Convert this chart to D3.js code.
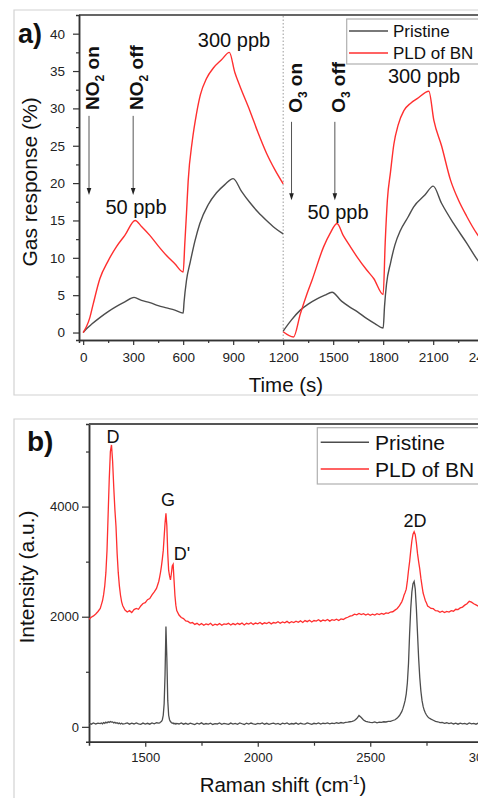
<!DOCTYPE html>
<html>
<head>
<meta charset="utf-8">
<script src="https://cdn.jsdelivr.net/npm/d3@7"></script>
<style>
  body { margin: 0; background: #fff; }
  svg { display: block; font-family: "Liberation Sans", Arial, sans-serif; }
</style>
</head>
<body>
<div class="chart"></div>
<script>
// ---------- panel a) gas response data (time s, response %) ----------
// null = break in the recording at 1200 s
const pristineTime = [0, 25, 50, 100, 150, 200, 250, 305, 350, 400, 450, 500, 550, 600,
  605, 620, 643, 670, 700, 750, 800, 850, 900, 950, 1000, 1050, 1100, 1150, 1200,
  1200,
  1200, 1250, 1303, 1350, 1403, 1450, 1493, 1550, 1600, 1644, 1700, 1750, 1800,
  1808, 1820, 1844, 1870, 1904, 1950, 1982, 2050, 2100, 2150, 2222, 2300, 2360, 2420];
const pristineResp = [0, 0.6, 1.1, 2.0, 2.8, 3.5, 4.1, 4.7, 4.3, 4.0, 3.6, 3.3, 3.0, 2.6,
  4.0, 7.0, 9.5, 12.2, 14.6, 17.1, 18.7, 19.8, 20.6, 18.9, 17.4, 16.1, 15.0, 14.0, 13.2,
  null,
  0.2, 1.7, 3.0, 3.8, 4.5, 5.0, 5.4, 4.2, 3.4, 2.8, 1.9, 1.2, 0.6,
  3.5, 6.5, 9.3, 11.7, 13.7, 15.5, 16.8, 18.4, 19.6, 17.3, 14.6, 12.0, 9.9, 8.2];

const pldTime = [0, 20, 40, 60, 100, 150, 200, 250, 312, 350, 400, 450, 500, 550, 600,
  610, 620, 630, 655, 680, 703, 740, 781, 830, 877, 910, 940, 1000, 1050, 1100, 1150, 1200,
  1200,
  1200, 1262, 1303, 1343, 1373, 1443, 1480, 1523, 1560, 1600, 1644, 1700, 1744, 1800,
  1812, 1825, 1844, 1864, 1890, 1924, 1965, 2004, 2074, 2104, 2150, 2204, 2250, 2300, 2360, 2420];
const pldResp = [0, 0.8, 2.0, 3.8, 7.2, 9.6, 11.5, 13.0, 15.0, 14.2, 13.0, 11.6, 10.3, 9.2, 8.1,
  12, 16, 20.3, 25.7, 29.3, 31.8, 34.0, 35.4, 36.5, 37.5, 34.8, 33.0, 29.7, 26.7, 24.0, 21.8, 19.9,
  null,
  0.1, -0.6, 2.5, 5.2, 7.0, 11.5, 13.2, 14.6, 13.0, 11.6, 10.1, 8.4, 7.2, 5.1,
  12, 17.7, 21.5, 25.2, 27.8, 29.7, 30.7, 31.3, 32.3, 28.4, 25.0, 20.4, 17.8, 15.6, 13.3, 11.6];

const timeTicks = [0, 300, 600, 900, 1200, 1500, 1800, 2100, 2400];
const timeMinor = [150, 450, 750, 1050, 1350, 1650, 1950, 2250];
const respTicks = [0, 5, 10, 15, 20, 25, 30, 35, 40];
const respMinor = [2.5, 7.5, 12.5, 17.5, 22.5, 27.5, 32.5, 37.5];

// gas switching events
const eventTime = [35, 300, 1250, 1510];
const eventGas = ["NO", "NO", "O", "O"];
const eventSub = ["2", "2", "3", "3"];
const eventState = ["on", "off", "on", "off"];

// ---------- panel b) Raman data (shift cm-1, intensity a.u.) ----------
const ramanShift = [1250, 1260, 1270, 1280, 1290, 1300,
  1305, 1310, 1315, 1320, 1325, 1330, 1335, 1340, 1345, 1350, 1355, 1360, 1365, 1370, 1375, 1380, 1385, 1390, 1395, 1400,
  1410, 1420, 1430, 1440, 1450, 1460, 1470, 1480, 1490, 1500, 1510, 1520, 1530, 1540, 1550, 1560,
  1564, 1568, 1572, 1576, 1580, 1584, 1588, 1592, 1596, 1600, 1604, 1608, 1612, 1616, 1620, 1624, 1628, 1632, 1636, 1640,
  1650, 1660, 1670, 1680, 1690, 1700, 1710, 1720, 1730, 1740, 1750, 1760, 1770, 1780, 1790, 1800, 1810, 1820, 1830, 1840,
  1850, 1860, 1870, 1880, 1890, 1900, 1910, 1920, 1930, 1940, 1950, 1960, 1970, 1980, 1990, 2000, 2010, 2020, 2030, 2040,
  2050, 2060, 2070, 2080, 2090, 2100, 2110, 2120, 2130, 2140, 2150, 2160, 2170, 2180, 2190, 2200, 2210, 2220, 2230, 2240,
  2250, 2260, 2270, 2280, 2290, 2300, 2310, 2320, 2330, 2340, 2350, 2360, 2370, 2380, 2390, 2400, 2410, 2420, 2430, 2440,
  2450, 2460, 2470, 2480, 2490, 2500, 2510, 2520, 2530, 2540, 2550, 2560, 2570, 2580, 2590, 2600, 2610, 2620, 2630, 2640,
  2645, 2650, 2655, 2660, 2665, 2670, 2675, 2680, 2685, 2690, 2695, 2700, 2705, 2710, 2715, 2720, 2725, 2730, 2735, 2740,
  2745, 2750, 2755, 2760,
  2770, 2780, 2790, 2800, 2810, 2820, 2830, 2840, 2850, 2860, 2870, 2880, 2890, 2900, 2910, 2920, 2930, 2940, 2950, 2960,
  2970, 2980, 2990, 3000];

const ramanPristine = [62, 48, 70, 52, 66, 58,
  70, 55, 78, 64, 85, 70, 92, 80, 96, 86, 90, 72, 84, 66, 75, 58, 70, 52, 64, 50,
  58, 70, 48, 66, 52, 72, 55, 44, 68, 50, 64, 48, 70, 56, 74, 68,
  72, 88, 96, 130, 210, 420, 950, 1820, 1250, 480, 210, 130, 96, 78, 66, 70, 54, 64, 50, 62,
  52, 70, 48, 64, 45, 68, 55, 42, 66, 50, 72, 46, 60, 49, 67, 43, 58, 52, 71, 46,
  61, 55, 44, 68, 51, 62, 47, 70, 56, 43, 65, 49, 69, 52, 45, 61, 55, 72, 48, 64,
  46, 58, 68, 51, 62, 43, 66, 54, 71, 47, 60, 52, 69, 45, 65, 55, 48, 71, 58, 46,
  64, 53, 72, 50, 65, 57, 70, 54, 67, 60, 74, 62, 78, 68, 82, 86, 92, 98, 115, 150,
  205, 170, 125, 100, 90, 82, 76, 88, 72, 84, 80, 92, 88, 100, 98, 115, 128, 158, 205, 275,
  330, 400, 480, 600, 800, 1150, 1700, 2150, 2450, 2600, 2640, 2500, 2150, 1700, 1250, 900, 650, 480, 370, 300,
  250, 215, 185, 165,
  140, 120, 98, 92, 76, 80, 64, 74, 58, 70, 52, 66, 48, 68, 55, 62, 46, 70, 54, 64,
  48, 66, 56, 60];

const ramanPLD = [1955, 1990, 2015, 2050, 2095, 2150,
  2220, 2290, 2400, 2560, 2800, 3200, 3850, 4500, 5000, 5120, 4820, 4350, 3950, 3640, 3150, 2800, 2560, 2390, 2270, 2200,
  2120, 2085, 2110, 2075, 2130, 2150, 2135, 2195, 2240, 2255, 2310, 2330, 2395, 2450, 2515, 2640,
  2720, 2810, 2920, 3050, 3200, 3450, 3700, 3880, 3650, 3150, 2840, 2740, 2670, 2780, 2920, 2950, 2660, 2380, 2210, 2110,
  2030, 1985, 1965, 1925, 1915, 1885, 1895, 1860, 1880, 1850, 1875, 1845, 1870, 1855, 1880, 1840, 1865, 1850, 1875, 1845,
  1870, 1860, 1880, 1850, 1875, 1855, 1880, 1860, 1885, 1850, 1880, 1865, 1890, 1860, 1885, 1870, 1895, 1865, 1890, 1875,
  1900, 1870, 1895, 1885, 1910, 1880, 1905, 1890, 1915, 1885, 1910, 1895, 1920, 1900, 1925, 1895, 1930, 1910, 1935, 1905,
  1930, 1920, 1945, 1915, 1940, 1925, 1950, 1920, 1945, 1935, 1955, 1930, 1960, 1950, 1975, 1990, 2010, 2020, 2045, 2035,
  2060, 2040, 2055, 2030, 2050, 2025, 2045, 2030, 2055, 2040, 2060, 2045, 2070, 2060, 2085, 2090, 2120, 2150, 2200, 2270,
  2320, 2390, 2440, 2500, 2650, 2840, 3000, 3200, 3380, 3500, 3545, 3490, 3340, 3150, 3000, 2870, 2700, 2560, 2430, 2360,
  2290, 2250, 2195, 2180,
  2150, 2145, 2110, 2105, 2080, 2100, 2075, 2095, 2085, 2110, 2100, 2135, 2130, 2160, 2175, 2210, 2235, 2280, 2265, 2235,
  2215, 2190, 2180, 2165];

const shiftTicks = [1500, 2000, 2500, 3000];
const shiftMinor = [1750, 2250, 2750];
const intensityTicks = [0, 2000, 4000];
const intensityMinor = [1000, 3000, 5000];

// peak labels
const peakShift = [1357, 1601, 1663, 2699];
const peakLevel = [5160, 4010, 3030, 3630];
const peakName = ["D", "G", "D'", "2D"];

//colors
const grayLine = "#4d4d4d";
const redLine = "#ff2f2f";
const axisColor = "#333";

const width = 478,
  height = 798;

const svg = d3
  .select(".chart")
  .append("svg")
  .attr("width", width)
  .attr("height", height);

svg.append("rect").attr("width", width).attr("height", height).attr("fill", "#fff");

//light frames round each panel
function panelFrame(y0, y1) {
  svg
    .append("path")
    .attr("d", `M${width + 5},${y0}H14V${y1}H${width + 5}`)
    .attr("fill", "none")
    .attr("stroke", "#d2d2d2")
    .attr("stroke-width", 1.2);
}
panelFrame(10, 395);
panelFrame(419, 805);

function styleAxis(g) {
  g.select(".domain").attr("stroke", axisColor).attr("stroke-width", 1.5);
  g.selectAll(".tick line").attr("stroke", axisColor).attr("stroke-width", 1.2);
  g.selectAll(".tick text").attr("fill", "#222");
}

/**************************************
        PANEL A - GAS RESPONSE
**************************************/

const xA = d3.scaleLinear().domain([-25, 2400]).range([79, 483.2]);
const yA = d3.scaleLinear().domain([-1, 42.5]).range([340, 15]);

svg
  .append("defs")
  .append("clipPath")
  .attr("id", "clipA")
  .append("rect")
  .attr("x", 79)
  .attr("y", 15)
  .attr("width", 420)
  .attr("height", 325);

//x axis
svg
  .append("g")
  .attr("transform", "translate(0,340)")
  .call(d3.axisBottom(xA).tickValues(timeMinor).tickFormat("").tickSize(3))
  .call(styleAxis);

svg
  .append("g")
  .attr("transform", "translate(0,340)")
  .call(
    d3
      .axisBottom(xA)
      .tickValues(timeTicks)
      .tickFormat(d3.format("d"))
      .tickSizeInner(5)
      .tickSizeOuter(0)
      .tickPadding(7)
  )
  .style("font-size", "13.5px")
  .style("font-family", "Liberation Sans, Arial, sans-serif")
  .call(styleAxis);

//y axis
svg
  .append("g")
  .attr("transform", "translate(79,0)")
  .call(d3.axisLeft(yA).tickValues(respMinor).tickFormat("").tickSize(3))
  .call(styleAxis);

svg
  .append("g")
  .attr("transform", "translate(79,0)")
  .call(
    d3
      .axisLeft(yA)
      .tickValues(respTicks)
      .tickSizeInner(6)
      .tickSizeOuter(0)
      .tickPadding(8)
  )
  .style("font-size", "13.5px")
  .style("font-family", "Liberation Sans, Arial, sans-serif")
  .call(styleAxis);

//top border
svg
  .append("line")
  .attr("x1", 79)
  .attr("x2", width)
  .attr("y1", 15)
  .attr("y2", 15)
  .attr("stroke", axisColor)
  .attr("stroke-width", 1.5);

//dotted divider between NO2 and O3 runs
svg
  .append("line")
  .attr("x1", xA(1200))
  .attr("x2", xA(1200))
  .attr("y1", 16)
  .attr("y2", 339)
  .attr("stroke", "#9a9a9a")
  .attr("stroke-dasharray", "1.5,2");

const gasLine = d3
  .line()
  .defined(d => d[1] !== null)
  .x(d => xA(d[0]))
  .y(d => yA(d[1]))
  .curve(d3.curveMonotoneX);

const curvesA = svg.append("g").attr("clip-path", "url(#clipA)");

curvesA
  .append("path")
  .attr("d", gasLine(d3.zip(pristineTime, pristineResp)))
  .attr("fill", "none")
  .attr("stroke", grayLine)
  .attr("stroke-width", 1.4);

curvesA
  .append("path")
  .attr("d", gasLine(d3.zip(pldTime, pldResp)))
  .attr("fill", "none")
  .attr("stroke", redLine)
  .attr("stroke-width", 1.4);

//gas on / off arrows
eventTime.forEach((t, i) => {
  const ax = xA(t);
  const isNO = eventGas[i] === "NO";
  const top = isNO ? yA(29.0) : yA(28.2);
  const tip = isNO ? yA(18.4) : yA(17.7);
  svg
    .append("line")
    .attr("x1", ax)
    .attr("x2", ax)
    .attr("y1", top)
    .attr("y2", tip - 5)
    .attr("stroke", "#555")
    .attr("stroke-width", 1);
  svg
    .append("path")
    .attr("d", `M${ax - 2.3},${tip - 7}L${ax + 2.3},${tip - 7}L${ax},${tip}Z`)
    .attr("fill", "#222");

  const label = svg
    .append("text")
    .attr("transform", `translate(${ax + 10},${isNO ? yA(29.8) : yA(29.4)}) rotate(-90)`)
    .style("font-size", "19px")
    .style("font-weight", "bold")
    .attr("fill", "#111");
  label.append("tspan").text(eventGas[i]);
  label
    .append("tspan")
    .attr("dy", 5)
    .style("font-size", "12px")
    .text(eventSub[i]);
  label
    .append("tspan")
    .attr("dy", -5)
    .text(" " + eventState[i]);
});

//concentration labels
const concT = [317, 905, 1529, 2045];
const concV = [15.9, 38.2, 15.2, 33.4];
const concText = ["50 ppb", "300 ppb", "50 ppb", "300 ppb"];
concText.forEach((s, i) => {
  svg
    .append("text")
    .attr("x", xA(concT[i]))
    .attr("y", yA(concV[i]))
    .attr("text-anchor", "middle")
    .style("font-size", "20px")
    .attr("fill", "#111")
    .text(s);
});

//legend a
svg
  .append("rect")
  .attr("x", 346.7)
  .attr("y", 19)
  .attr("width", 140)
  .attr("height", 45)
  .attr("fill", "#fff")
  .attr("stroke", "#b0b0b0")
  .attr("stroke-width", 1.2);

[["Pristine", grayLine, 31], ["PLD of BN", redLine, 53]].forEach(d => {
  svg
    .append("line")
    .attr("x1", 349)
    .attr("x2", 388)
    .attr("y1", d[2])
    .attr("y2", d[2])
    .attr("stroke", d[1])
    .attr("stroke-width", 1.4);
  svg
    .append("text")
    .attr("x", 393)
    .attr("y", d[2] + 6)
    .style("font-size", "17px")
    .attr("fill", "#111")
    .text(d[0]);
});

//axis titles a
svg
  .append("text")
  .attr("transform", "translate(37,182) rotate(-90)")
  .attr("text-anchor", "middle")
  .style("font-size", "21px")
  .attr("fill", "#111")
  .text("Gas response (%)");

svg
  .append("text")
  .attr("x", 286)
  .attr("y", 392)
  .attr("text-anchor", "middle")
  .style("font-size", "20.5px")
  .attr("fill", "#111")
  .text("Time (s)");

svg
  .append("text")
  .attr("x", 18)
  .attr("y", 43)
  .style("font-size", "27px")
  .style("font-weight", "bold")
  .attr("fill", "#111")
  .text("a)");

/**************************************
        PANEL B - RAMAN SPECTRA
**************************************/

const xB = d3.scaleLinear().domain([1250, 3050]).range([89, 494]);
const yB = d3.scaleLinear().domain([-270, 5500]).range([741.7, 424]);

svg
  .select("defs")
  .append("clipPath")
  .attr("id", "clipB")
  .append("rect")
  .attr("x", 89)
  .attr("y", 424)
  .attr("width", 420)
  .attr("height", 318);

svg
  .append("g")
  .attr("transform", "translate(0,741.7)")
  .call(d3.axisBottom(xB).tickValues(shiftMinor).tickFormat("").tickSize(4))
  .call(styleAxis);

svg
  .append("g")
  .attr("transform", "translate(0,741.7)")
  .call(
    d3
      .axisBottom(xB)
      .tickValues(shiftTicks)
      .tickFormat(d3.format("d"))
      .tickSizeInner(5)
      .tickSizeOuter(0)
      .tickPadding(6)
  )
  .style("font-size", "13px")
  .style("font-family", "Liberation Sans, Arial, sans-serif")
  .call(styleAxis);

svg
  .append("g")
  .attr("transform", "translate(89,0)")
  .call(d3.axisLeft(yB).tickValues(intensityMinor).tickFormat("").tickSize(3))
  .call(styleAxis);

svg
  .append("g")
  .attr("transform", "translate(89,0)")
  .call(
    d3
      .axisLeft(yB)
      .tickValues(intensityTicks)
      .tickFormat(d3.format("d"))
      .tickSizeInner(7)
      .tickSizeOuter(0)
      .tickPadding(3)
  )
  .style("font-size", "13px")
  .style("font-family", "Liberation Sans, Arial, sans-serif")
  .call(styleAxis);

svg
  .append("line")
  .attr("x1", 89)
  .attr("x2", width)
  .attr("y1", 424)
  .attr("y2", 424)
  .attr("stroke", "#555")
  .attr("stroke-width", 2);

const ramanLine = d3
  .line()
  .x(d => xB(d[0]))
  .y(d => yB(d[1]));

const curvesB = svg.append("g").attr("clip-path", "url(#clipB)");

curvesB
  .append("path")
  .attr("d", ramanLine(d3.zip(ramanShift, ramanPristine)))
  .attr("fill", "none")
  .attr("stroke", grayLine)
  .attr("stroke-width", 1.3);

curvesB
  .append("path")
  .attr("d", ramanLine(d3.zip(ramanShift, ramanPLD)))
  .attr("fill", "none")
  .attr("stroke", redLine)
  .attr("stroke-width", 1.3);

//peak names
peakName.forEach((s, i) => {
  svg
    .append("text")
    .attr("x", xB(peakShift[i]))
    .attr("y", yB(peakLevel[i]))
    .attr("text-anchor", "middle")
    .style("font-size", "18px")
    .attr("fill", "#111")
    .text(s);
});

//legend b
svg
  .append("rect")
  .attr("x", 317.3)
  .attr("y", 427.7)
  .attr("width", 170)
  .attr("height", 56.3)
  .attr("fill", "#fff")
  .attr("stroke", "#b0b0b0")
  .attr("stroke-width", 1.2);

[["Pristine", grayLine, 442.3], ["PLD of BN", redLine, 469]].forEach(d => {
  svg
    .append("line")
    .attr("x1", 320.7)
    .attr("x2", 369)
    .attr("y1", d[2])
    .attr("y2", d[2])
    .attr("stroke", d[1])
    .attr("stroke-width", 1.4);
  svg
    .append("text")
    .attr("x", 375)
    .attr("y", d[2] + 7.5)
    .style("font-size", "21px")
    .attr("fill", "#111")
    .text(d[0]);
});

//axis titles b
svg
  .append("text")
  .attr("transform", "translate(34,577) rotate(-90)")
  .attr("text-anchor", "middle")
  .style("font-size", "21px")
  .attr("fill", "#111")
  .text("Intensity (a.u.)");

const xTitle = svg
  .append("text")
  .attr("x", 283)
  .attr("y", 791.5)
  .attr("text-anchor", "middle")
  .style("font-size", "20.5px")
  .attr("fill", "#111");
xTitle.append("tspan").text("Raman shift (cm");
xTitle
  .append("tspan")
  .attr("dy", -8)
  .style("font-size", "12px")
  .text("-1");
xTitle
  .append("tspan")
  .attr("dy", 8)
  .text(")");

svg
  .append("text")
  .attr("x", 27)
  .attr("y", 451)
  .style("font-size", "28px")
  .style("font-weight", "bold")
  .attr("fill", "#111")
  .text("b)");
</script>
</body>
</html>
